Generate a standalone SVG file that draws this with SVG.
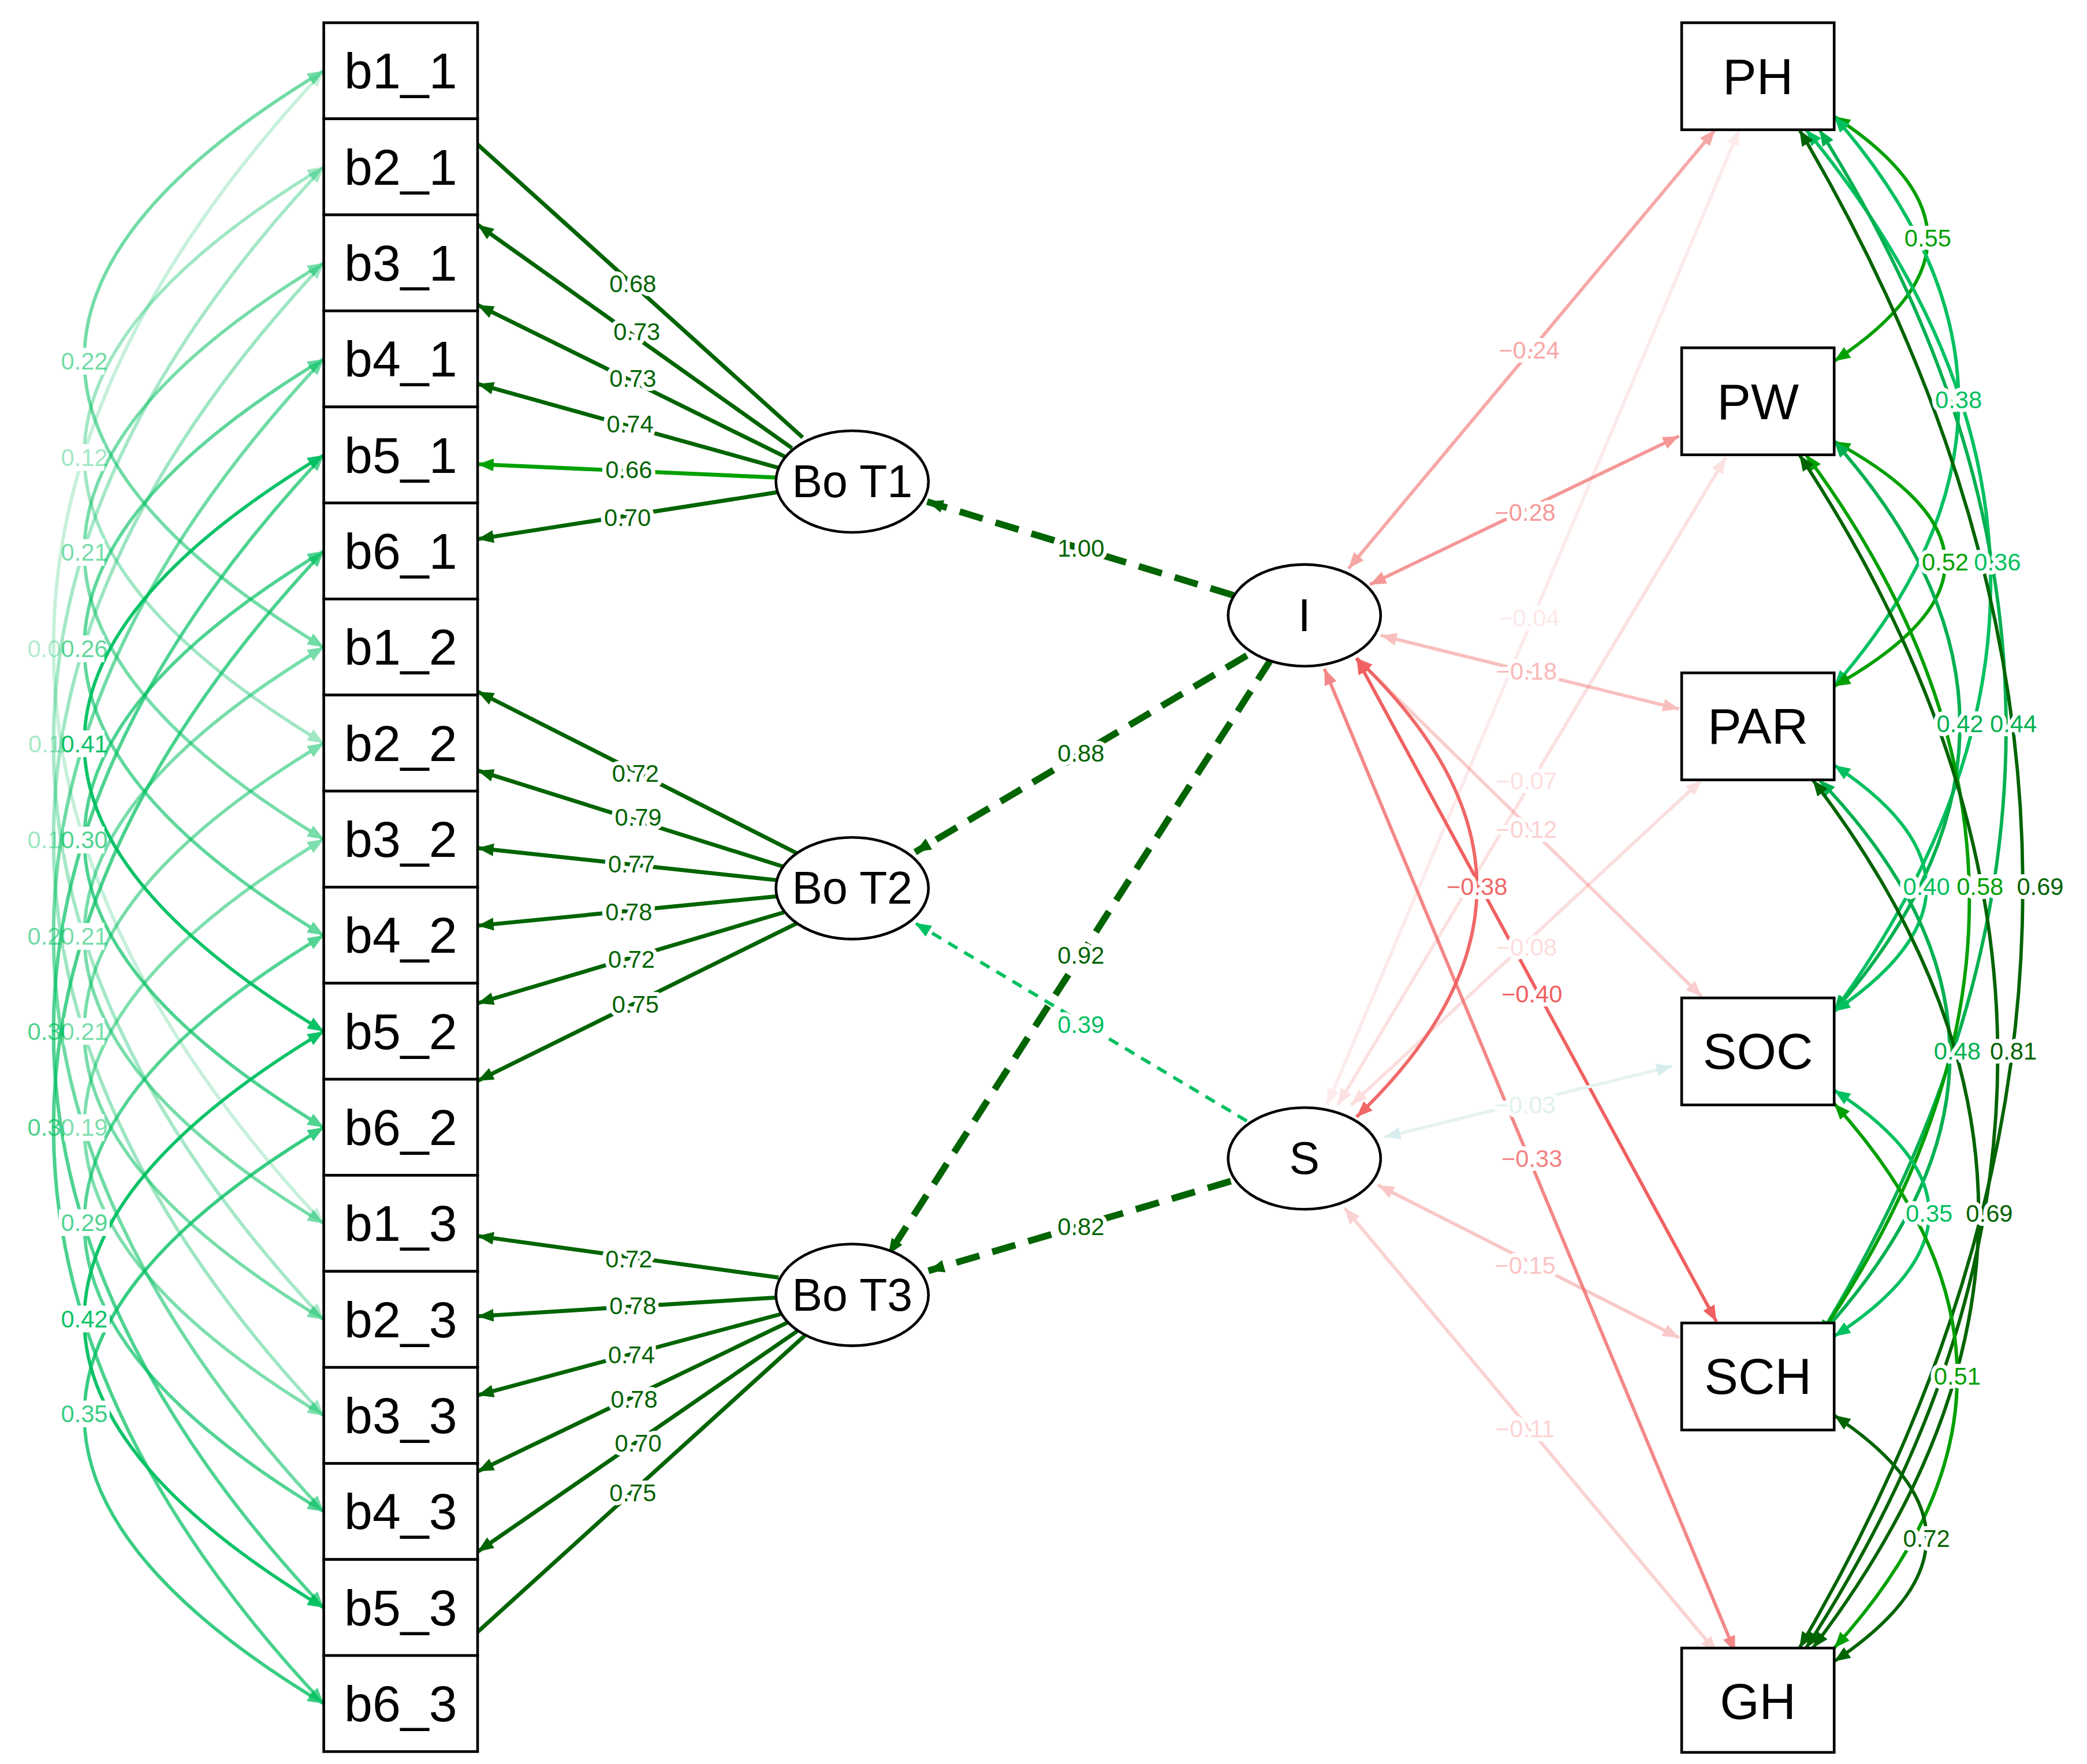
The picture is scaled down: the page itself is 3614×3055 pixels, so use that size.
<svg xmlns="http://www.w3.org/2000/svg" width="3614" height="3055" viewBox="0 0 3614 3055">
<style>
.box{fill:#fff;stroke:#000;stroke-width:2}
.nt{font-family:"Liberation Sans",Arial,sans-serif;font-size:38px;text-anchor:middle;dominant-baseline:central;fill:#000}
.et{font-family:"Liberation Sans",Arial,sans-serif;font-size:34px;text-anchor:middle;dominant-baseline:central;fill:#000}
.lt{font-family:"Liberation Sans",Arial,sans-serif;font-size:18px;text-anchor:middle;dominant-baseline:central}
.wl{stroke:#fff;stroke-width:6;paint-order:stroke;stroke-linejoin:round}
.bg{fill:#fff}
.ld{stroke:#006400;stroke-width:3;fill:none;marker-end:url(#mDk)}
.ds{stroke:#006400;stroke-width:5;fill:none;stroke-dasharray:18 10;marker-end:url(#mDk)}
.rd{stroke:#f06060;stroke-width:2.5;fill:none;marker-end:url(#mR);marker-start:url(#mR)}
.cv{fill:none;stroke-width:2.5}
</style>
<defs>
<marker id="mDk" viewBox="0 0 10 10" refX="10" refY="5" markerWidth="12" markerHeight="12" markerUnits="userSpaceOnUse" orient="auto-start-reverse"><path d="M0,1L10,5L0,9z" fill="#006400"/></marker>
<marker id="mG" viewBox="0 0 10 10" refX="10" refY="5" markerWidth="12" markerHeight="12" markerUnits="userSpaceOnUse" orient="auto-start-reverse"><path d="M0,1L10,5L0,9z" fill="#00a000"/></marker>
<marker id="mB" viewBox="0 0 10 10" refX="10" refY="5" markerWidth="12" markerHeight="12" markerUnits="userSpaceOnUse" orient="auto-start-reverse"><path d="M0,1L10,5L0,9z" fill="#00b050"/></marker>
<marker id="mC" viewBox="0 0 10 10" refX="10" refY="5" markerWidth="12" markerHeight="12" markerUnits="userSpaceOnUse" orient="auto-start-reverse"><path d="M0,1L10,5L0,9z" fill="#00c060"/></marker>
<marker id="mR" viewBox="0 0 10 10" refX="10" refY="5" markerWidth="12" markerHeight="12" markerUnits="userSpaceOnUse" orient="auto-start-reverse"><path d="M0,1L10,5L0,9z" fill="#f06060"/></marker>
<marker id="mCy" viewBox="0 0 10 10" refX="10" refY="5" markerWidth="12" markerHeight="12" markerUnits="userSpaceOnUse" orient="auto-start-reverse"><path d="M0,1L10,5L0,9z" fill="#d8eeee"/></marker>
</defs>
<rect width="3614" height="3055" fill="#fff"/>
<g transform="scale(2.3167)">
<g id="connectors">
<g stroke="#00c060" class="cv" marker-start="url(#mC)" marker-end="url(#mC)">
<path d="M242,53Q-162,483.8 242,914.6" opacity="0.22"/>
<path d="M242,124.8Q-162,555.6 242,986.4" opacity="0.35"/>
<path d="M242,196.6Q-162,627.4 242,1058.2" opacity="0.38"/>
<path d="M242,268.4Q-162,699.2 242,1130" opacity="0.56"/>
<path d="M242,340.2Q-162,771 242,1201.8" opacity="0.69"/>
<path d="M242,412Q-162,842.8 242,1273.6" opacity="0.71"/>
<path d="M242,53Q-116,268.4 242,483.8" opacity="0.55"/>
<path d="M242,124.8Q-116,340.2 242,555.6" opacity="0.37"/>
<path d="M242,196.6Q-116,412 242,627.4" opacity="0.53"/>
<path d="M242,268.4Q-116,483.8 242,699.2" opacity="0.62"/>
<path d="M242,340.2Q-116,555.6 242,771" opacity="0.95"/>
<path d="M242,412Q-116,627.4 242,842.8" opacity="0.69"/>
<path d="M242,483.8Q-116,699.2 242,914.6" opacity="0.53"/>
<path d="M242,555.6Q-116,771 242,986.4" opacity="0.53"/>
<path d="M242,627.4Q-116,842.8 242,1058.2" opacity="0.5"/>
<path d="M242,699.2Q-116,914.6 242,1130" opacity="0.67"/>
<path d="M242,771Q-116,986.4 242,1201.8" opacity="0.95"/>
<path d="M242,842.8Q-116,1058.2 242,1273.6" opacity="0.78"/>
</g>
<path d="M600,327L357,108" stroke="#006400" stroke-width="3" fill="none"/>
<path class="ld" d="M592,335L357,168"/>
<path class="ld" d="M588,342L357,228"/>
<path class="ld" d="M583,350L357,287"/>
<path d="M580,357L357,347" stroke="#00a000" stroke-width="3" fill="none" marker-end="url(#mG)"/>
<path class="ld" d="M581,368L357,403"/>
<path class="ld" d="M596,638L357,517"/>
<path class="ld" d="M586,648L357,576"/>
<path class="ld" d="M581,658L357,634"/>
<path class="ld" d="M581,670L357,692"/>
<path class="ld" d="M586,682L357,750"/>
<path class="ld" d="M596,690L357,808"/>
<path class="ld" d="M582,955L357,924"/>
<path class="ld" d="M580,970L357,984"/>
<path class="ld" d="M585,982L357,1043"/>
<path class="ld" d="M590,988L357,1100"/>
<path class="ld" d="M596,995L357,1160"/>
<path d="M602,998L357,1220" stroke="#006400" stroke-width="3" fill="none"/>
<path class="ds" d="M922,445L693,375" stroke-width="6"/>
<path class="ds" d="M932,490L684,637"/>
<path class="ds" d="M950,493L664,938"/>
<path d="M932,838L684,690" stroke="#00c060" stroke-width="2.5" stroke-dasharray="8 6" fill="none" marker-end="url(#mC)"/>
<path class="ds" d="M920,883L694,950"/>
<path class="rd" d="M1008,425L1282,97" opacity="0.55"/>
<path class="rd" d="M1024,437L1255,326" opacity="0.65"/>
<path class="rd" d="M1032,475L1255,530" opacity="0.4"/>
<path class="rd" d="M1014,492L1272,745" opacity="0.3"/>
<path class="rd" d="M1014,492L1283,988" opacity="1"/>
<path class="rd" d="M990,500L1297,1235" opacity="0.75"/>
<path class="rd" d="M992,826L1300,97" opacity="0.12"/>
<path class="rd" d="M1000,826L1290,342" opacity="0.18"/>
<path class="rd" d="M1010,826L1272,583" opacity="0.2"/>
<path d="M1035,850L1250,797" stroke="#e6f2f2" stroke-width="2.5" fill="none" marker-start="url(#mCy)" marker-end="url(#mCy)"/>
<path class="rd" d="M1030,886L1255,1000" opacity="0.35"/>
<path class="rd" d="M1005,903L1283,1235" opacity="0.28"/>
<path class="rd" d="M1014,492Q1194,663 1014,835" opacity="0.95"/>
<path class="cv" stroke="#00a000" marker-start="url(#mG)" marker-end="url(#mG)" d="M1371,87Q1511,178 1371,270"/>
<path class="cv" stroke="#00c060" marker-start="url(#mC)" marker-end="url(#mC)" d="M1371,87Q1557,300 1371,513"/>
<path class="cv" stroke="#00a000" marker-start="url(#mG)" marker-end="url(#mG)" d="M1371,330Q1537,420 1371,513"/>
<path class="cv" stroke="#00c060" marker-start="url(#mC)" marker-end="url(#mC)" d="M1350,97Q1615,420 1371,756"/>
<path class="cv" stroke="#00b050" marker-start="url(#mB)" marker-end="url(#mB)" d="M1371,330Q1559,541 1371,756"/>
<path class="cv" stroke="#00b050" marker-start="url(#mB)" marker-end="url(#mB)" d="M1360,97Q1639,541 1360,999"/>
<path class="cv" stroke="#00c060" marker-start="url(#mC)" marker-end="url(#mC)" d="M1371,572Q1509,663 1371,756"/>
<path class="cv" stroke="#00a000" marker-start="url(#mG)" marker-end="url(#mG)" d="M1350,340Q1589,663 1360,999"/>
<path class="cv" stroke="#006400" marker-start="url(#mDk)" marker-end="url(#mDk)" d="M1345,97Q1679,663 1345,1232"/>
<path class="cv" stroke="#00b050" marker-start="url(#mB)" marker-end="url(#mB)" d="M1360,583Q1555,786 1360,999"/>
<path class="cv" stroke="#006400" marker-start="url(#mDk)" marker-end="url(#mDk)" d="M1345,340Q1639,786 1350,1232"/>
<path class="cv" stroke="#00c060" marker-start="url(#mC)" marker-end="url(#mC)" d="M1371,815Q1513,907 1371,999"/>
<path class="cv" stroke="#006400" marker-start="url(#mDk)" marker-end="url(#mDk)" d="M1355,583Q1603,907 1355,1232"/>
<path class="cv" stroke="#00a000" marker-start="url(#mG)" marker-end="url(#mG)" d="M1371,825Q1555,1029 1371,1232"/>
<path class="cv" stroke="#006400" marker-start="url(#mDk)" marker-end="url(#mDk)" d="M1371,1058Q1509,1150 1371,1242"/>
</g>
<g id="labels">
<g class="lt">
<text x="38" y="485" fill="#00c060" opacity="0.3">0.04</text>
<text x="38" y="556" fill="#00c060" opacity="0.35">0.11</text>
<text x="38" y="628" fill="#00c060" opacity="0.38">0.13</text>
<text x="38" y="700" fill="#00c060" opacity="0.56">0.23</text>
<text x="38" y="771" fill="#00c060" opacity="0.69">0.30</text>
<text x="38" y="843" fill="#00c060" opacity="0.71">0.31</text>
</g>
<g>
<rect class="bg" x="48" y="260" width="30" height="20"/><rect class="bg" x="48" y="332" width="30" height="20"/><rect class="bg" x="48" y="403" width="30" height="20"/><rect class="bg" x="48" y="475" width="30" height="20"/><rect class="bg" x="48" y="546" width="30" height="20"/><rect class="bg" x="48" y="618" width="30" height="20"/><rect class="bg" x="48" y="690" width="30" height="20"/><rect class="bg" x="48" y="761" width="30" height="20"/><rect class="bg" x="48" y="833" width="30" height="20"/><rect class="bg" x="44" y="904" width="38" height="20"/><rect class="bg" x="44" y="976" width="38" height="20"/><rect class="bg" x="44" y="1047" width="38" height="20"/>
</g>
<g class="lt" fill="#00c060">
<text x="63" y="270" opacity="0.55">0.22</text>
<text x="63" y="342" opacity="0.37">0.12</text>
<text x="63" y="413" opacity="0.53">0.21</text>
<text x="63" y="485" opacity="0.62">0.26</text>
<text x="63" y="556" opacity="0.95">0.41</text>
<text x="63" y="628" opacity="0.69">0.30</text>
<text x="63" y="700" opacity="0.53">0.21</text>
<text x="63" y="771" opacity="0.53">0.21</text>
<text x="63" y="843" opacity="0.5">0.19</text>
<text x="63" y="914" opacity="0.67">0.29</text>
<text x="63" y="986" opacity="0.95">0.42</text>
<text x="63" y="1057" opacity="0.78">0.35</text>
</g>
<g class="lt wl" fill="#006400">
<text x="473" y="212">0.68</text><text x="476" y="248">0.73</text><text x="473" y="283">0.73</text><text x="471" y="317">0.74</text><text x="470" y="351">0.66</text><text x="469" y="387">0.70</text>
<text x="475" y="578">0.72</text><text x="477" y="611">0.79</text><text x="472" y="646">0.77</text><text x="470" y="682">0.78</text><text x="472" y="717">0.72</text><text x="475" y="751">0.75</text>
<text x="470" y="941">0.72</text><text x="473" y="976">0.78</text><text x="472" y="1013">0.74</text><text x="474" y="1046">0.78</text><text x="477" y="1079">0.70</text><text x="473" y="1116">0.75</text>
<text x="808" y="410">1.00</text><text x="808" y="563">0.88</text><text x="808" y="714">0.92</text><text x="808" y="917">0.82</text>
<text x="808" y="766" fill="#00c060">0.39</text>
</g>
<g class="lt wl">
<text x="1143" y="262" fill="#f8a8a8">−0.24</text>
<text x="1140" y="383" fill="#f59a9a">−0.28</text>
<text x="1141" y="502" fill="#fab8b8">−0.18</text>
<text x="1141" y="620" fill="#fcd0d0">−0.12</text>
<text x="1145" y="743" fill="#f06060">−0.40</text>
<text x="1145" y="866" fill="#f38080">−0.33</text>
<text x="1143" y="462" fill="#fde8e8">−0.04</text>
<text x="1141" y="584" fill="#fde0e0">−0.07</text>
<text x="1141" y="708" fill="#fddcdc">−0.08</text>
<text x="1140" y="826" fill="#e0f0f0">−0.03</text>
<text x="1140" y="946" fill="#fbc4c4">−0.15</text>
<text x="1140" y="1068" fill="#fcd4d4">−0.11</text>
<text x="1104" y="663" fill="#f06868">−0.38</text>
</g>
<g class="lt wl">
<text x="1441" y="178" fill="#00a000">0.55</text>
<text x="1464" y="299" fill="#00c060">0.38</text>
<text x="1454" y="420" fill="#00a000">0.52</text>
<text x="1493" y="420" fill="#00c060">0.36</text>
<text x="1465" y="541" fill="#00b050">0.42</text>
<text x="1505" y="541" fill="#00b050">0.44</text>
<text x="1440" y="663" fill="#00c060">0.40</text>
<text x="1480" y="663" fill="#00a000">0.58</text>
<text x="1525" y="663" fill="#006400">0.69</text>
<text x="1463" y="786" fill="#00b050">0.48</text>
<text x="1505" y="786" fill="#006400">0.81</text>
<text x="1442" y="907" fill="#00c060">0.35</text>
<text x="1487" y="907" fill="#006400">0.69</text>
<text x="1463" y="1029" fill="#00a000">0.51</text>
<text x="1440" y="1150" fill="#006400">0.72</text>
</g>
</g>
<g id="n_b1_1"><rect class="box" x="242" y="17" width="115" height="71.8"/><text class="nt" x="299.5" y="53">b1_1</text></g>
<g id="n_b2_1"><rect class="box" x="242" y="88.8" width="115" height="71.8"/><text class="nt" x="299.5" y="124.8">b2_1</text></g>
<g id="n_b3_1"><rect class="box" x="242" y="160.6" width="115" height="71.8"/><text class="nt" x="299.5" y="196.6">b3_1</text></g>
<g id="n_b4_1"><rect class="box" x="242" y="232.4" width="115" height="71.8"/><text class="nt" x="299.5" y="268.4">b4_1</text></g>
<g id="n_b5_1"><rect class="box" x="242" y="304.2" width="115" height="71.8"/><text class="nt" x="299.5" y="340.2">b5_1</text></g>
<g id="n_b6_1"><rect class="box" x="242" y="376" width="115" height="71.8"/><text class="nt" x="299.5" y="412">b6_1</text></g>
<g id="n_b1_2"><rect class="box" x="242" y="447.8" width="115" height="71.8"/><text class="nt" x="299.5" y="483.8">b1_2</text></g>
<g id="n_b2_2"><rect class="box" x="242" y="519.6" width="115" height="71.8"/><text class="nt" x="299.5" y="555.6">b2_2</text></g>
<g id="n_b3_2"><rect class="box" x="242" y="591.4" width="115" height="71.8"/><text class="nt" x="299.5" y="627.4">b3_2</text></g>
<g id="n_b4_2"><rect class="box" x="242" y="663.2" width="115" height="71.8"/><text class="nt" x="299.5" y="699.2">b4_2</text></g>
<g id="n_b5_2"><rect class="box" x="242" y="735" width="115" height="71.8"/><text class="nt" x="299.5" y="771">b5_2</text></g>
<g id="n_b6_2"><rect class="box" x="242" y="806.8" width="115" height="71.8"/><text class="nt" x="299.5" y="842.8">b6_2</text></g>
<g id="n_b1_3"><rect class="box" x="242" y="878.6" width="115" height="71.8"/><text class="nt" x="299.5" y="914.6">b1_3</text></g>
<g id="n_b2_3"><rect class="box" x="242" y="950.4" width="115" height="71.8"/><text class="nt" x="299.5" y="986.4">b2_3</text></g>
<g id="n_b3_3"><rect class="box" x="242" y="1022.2" width="115" height="71.8"/><text class="nt" x="299.5" y="1058.2">b3_3</text></g>
<g id="n_b4_3"><rect class="box" x="242" y="1094" width="115" height="71.8"/><text class="nt" x="299.5" y="1130">b4_3</text></g>
<g id="n_b5_3"><rect class="box" x="242" y="1165.8" width="115" height="71.8"/><text class="nt" x="299.5" y="1201.8">b5_3</text></g>
<g id="n_b6_3"><rect class="box" x="242" y="1237.6" width="115" height="71.8"/><text class="nt" x="299.5" y="1273.6">b6_3</text></g>
<g id="n_PH"><rect class="box" x="1257" y="17" width="114" height="80"/><text class="nt" x="1314" y="57">PH</text></g>
<g id="n_PW"><rect class="box" x="1257" y="260" width="114" height="80"/><text class="nt" x="1314" y="300">PW</text></g>
<g id="n_PAR"><rect class="box" x="1257" y="503" width="114" height="80"/><text class="nt" x="1314" y="543">PAR</text></g>
<g id="n_SOC"><rect class="box" x="1257" y="746" width="114" height="80"/><text class="nt" x="1314" y="786">SOC</text></g>
<g id="n_SCH"><rect class="box" x="1257" y="989" width="114" height="80"/><text class="nt" x="1314" y="1029">SCH</text></g>
<g id="n_GH"><rect class="box" x="1257" y="1232" width="114" height="78"/><text class="nt" x="1314" y="1272">GH</text></g>
<g id="n_BoT1"><ellipse class="box" cx="637" cy="360" rx="57" ry="38"/><text class="et" x="637" y="360">Bo T1</text></g>
<g id="n_BoT2"><ellipse class="box" cx="637" cy="664" rx="57" ry="38"/><text class="et" x="637" y="664">Bo T2</text></g>
<g id="n_BoT3"><ellipse class="box" cx="637" cy="968" rx="57" ry="38"/><text class="et" x="637" y="968">Bo T3</text></g>
<g id="n_I"><ellipse class="box" cx="975" cy="460" rx="57" ry="38"/><text class="et" x="975" y="460">I</text></g>
<g id="n_S"><ellipse class="box" cx="975" cy="866" rx="57" ry="38"/><text class="et" x="975" y="866">S</text></g>
</g>
</svg>
